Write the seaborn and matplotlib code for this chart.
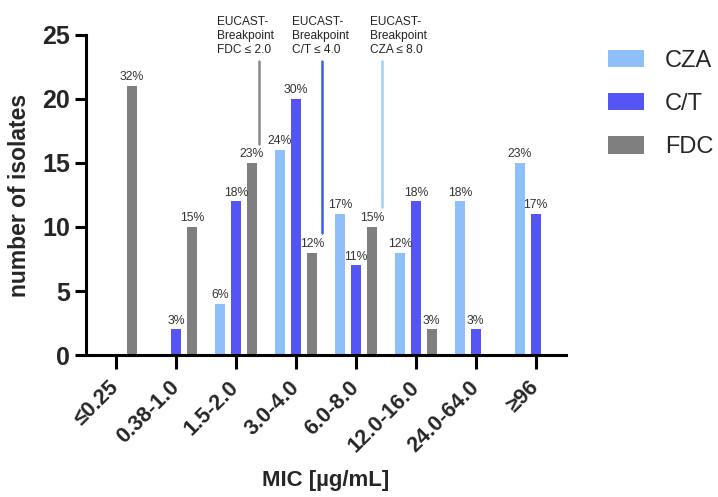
import numpy as np
import pandas as pd
import matplotlib
matplotlib.use("Agg")
import matplotlib.pyplot as plt
import seaborn as sns

categories = ["≤0.25", "0.38-1.0", "1.5-2.0", "3.0-4.0", "6.0-8.0", "12.0-16.0", "24.0-64.0", "≥96"]
drugs = ["CZA", "C/T", "FDC"]
cza = [0, 0, 4, 16, 11, 8, 12, 15]
ct = [0, 2, 12, 20, 7, 12, 2, 11]
fdc = [21, 10, 15, 8, 10, 2, 0, 0]
colors = ["#8fbff8", "#5555f5", "#7f7f7f"]
yticks = [0, 5, 10, 15, 20, 25]

breakpoints = [
    ("EUCAST-\nBreakpoint\nFDC ≤ 2.0", 2.39, 16.5, 1.69, "#8a8a8a"),
    ("EUCAST-\nBreakpoint\nC/T ≤ 4.0", 3.43, 9.5, 2.93, "#3d5cf0"),
    ("EUCAST-\nBreakpoint\nCZA ≤ 8.0", 4.44, 11.6, 4.24, "#9fd0fb"),
]

sns.set_style("ticks")
plt.rcParams["font.family"] = ["Liberation Sans", "DejaVu Sans"]

series = {"CZA": cza, "C/T": ct, "FDC": fdc}
rows = []
for d in drugs:
    for c, v in zip(categories, series[d]):
        rows.append({"MIC": c, "drug": d, "count": v})
df = pd.DataFrame(rows)

fig = plt.figure(figsize=(7.18, 4.97), dpi=100)
ax = fig.add_axes([0.1198, 0.2857, 0.788 - 0.1198, 0.9296 - 0.2857])

sns.barplot(data=df, x="MIC", y="count", hue="drug", order=categories,
            hue_order=drugs, palette=colors, width=0.8, gap=0.34,
            saturation=1, ax=ax, edgecolor="none", linewidth=0)

for cont, d in zip(ax.containers, drugs):
    vals = series[d]
    tot = sum(vals)
    labels = [f"{round(v / tot * 100)}%" if v > 0 else "" for v in vals]
    ax.bar_label(cont, labels=labels, padding=2, fontsize=8.8, color="#333333")

ax.set_xlim(-0.5, 7.5)
ax.set_ylim(0, 25)
ax.set_yticks(yticks)
ax.set_yticklabels([str(t) for t in yticks], fontsize=18, fontweight="bold")
ax.set_xticks(range(len(categories)))
ax.set_xticklabels(categories, rotation=45, ha="right", va="center",
                   rotation_mode="anchor", fontsize=15.5, fontweight="bold")
ax.tick_params(axis="x", pad=11)
ax.set_ylabel("number of isolates", fontsize=16.5, fontweight="bold", labelpad=8)
ax.set_xlabel("MIC [µg/mL]", fontsize=16, fontweight="bold", labelpad=10)

for s in ["top", "right"]:
    ax.spines[s].set_visible(False)
for s in ["left", "bottom"]:
    ax.spines[s].set_linewidth(2.2)
    ax.spines[s].set_color("black")
ax.tick_params(axis="both", width=2.2, length=8, color="black")
ax.tick_params(axis="x", length=10)

for txt, lx, ybot, tx, col in breakpoints:
    ax.plot([lx, lx], [ybot, 23.0], color=col, lw=1.8, clip_on=False)
    ax.text(tx, 26.45, txt, ha="left", va="top", fontsize=8.6, color="#222222",
            linespacing=1.2, clip_on=False)

ax.legend(loc="upper left", bbox_to_anchor=(0.847, 0.90), bbox_transform=fig.transFigure,
          frameon=False, fontsize=17, handlelength=1.5, handleheight=0.75,
          labelspacing=0.9, handletextpad=0.9, borderpad=0, borderaxespad=0)

fig.savefig("out.png", dpi=100)
